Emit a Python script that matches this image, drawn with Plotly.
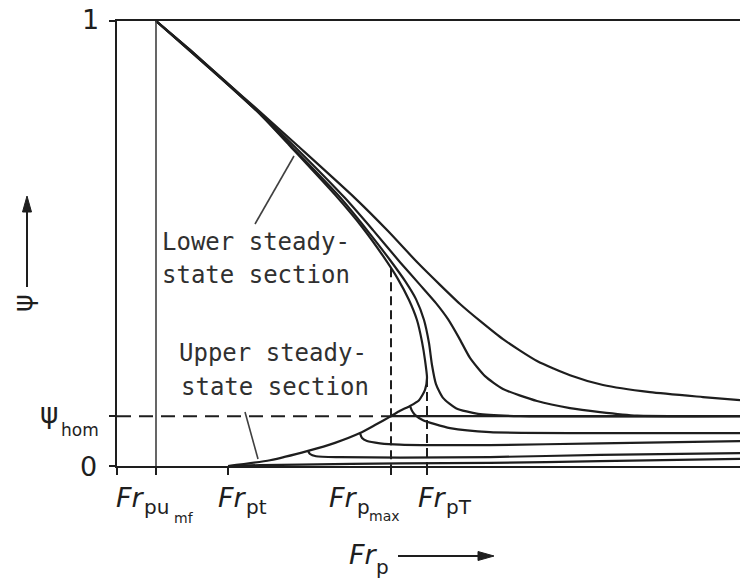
import numpy as np
import plotly.graph_objects as go

# ---- characteristic Froude numbers and homogeneous void fraction ----
FR_PUMF = 0.626
FR_PT = 1.782
FR_PMAX = 4.398
PSI_HOM = 0.112

# ---- state curves psi(Fr_p) ----
# S-shaped limiting curve: lower steady-state branch, turning point (Fr_pT), upper branch
c1_fr = [0.626, 1.172, 1.734, 2.295, 2.777, 3.515, 3.933, 4.270, 4.510, 4.687, 4.815, 4.896,
         4.944, 4.976, 4.944, 4.848, 4.703, 4.543, 4.398, 4.141, 3.900, 3.499, 3.066, 2.456,
         1.782]
c1_psi = [1.000, 0.933, 0.863, 0.791, 0.719, 0.607, 0.537, 0.472, 0.420, 0.373, 0.328, 0.279,
          0.238, 0.198, 0.171, 0.148, 0.135, 0.124, 0.112, 0.092, 0.074, 0.052, 0.034, 0.013,
          0.000]

c2_fr = [0.626, 1.172, 1.734, 2.295, 2.809, 3.579, 3.997, 4.382, 4.623, 4.799, 4.928, 5.008,
         5.056, 5.120, 5.233, 5.441, 5.795, 6.469, 10.0]
c2_psi = [1.000, 0.933, 0.863, 0.791, 0.717, 0.604, 0.533, 0.463, 0.416, 0.375, 0.328, 0.276,
          0.227, 0.184, 0.153, 0.130, 0.117, 0.112, 0.112]

c3_fr = [0.626, 1.172, 1.734, 2.295, 2.857, 3.660, 4.109, 4.543, 4.864, 5.120, 5.313, 5.490,
         5.666, 5.907, 6.196, 6.742, 7.271, 7.753, 8.347, 9.358, 10.0]
c3_psi = [1.000, 0.935, 0.865, 0.793, 0.717, 0.602, 0.530, 0.458, 0.407, 0.366, 0.330, 0.288,
          0.243, 0.202, 0.173, 0.146, 0.130, 0.121, 0.113, 0.112, 0.112]

c4_fr = [0.626, 1.172, 1.734, 2.295, 2.905, 3.820, 4.350, 4.831, 5.185, 5.506, 5.827, 6.196,
         6.742, 7.271, 7.801, 8.555, 9.406, 10.0]
c4_psi = [1.000, 0.935, 0.865, 0.796, 0.719, 0.602, 0.528, 0.456, 0.407, 0.364, 0.326, 0.285,
          0.236, 0.204, 0.182, 0.166, 0.155, 0.148]

# curves leaving the upper steady-state branch
h1_fr = [4.703, 4.735, 4.783, 4.912, 5.104, 5.345, 5.987, 7.753, 10.0]
h1_psi = [0.135, 0.124, 0.115, 0.103, 0.094, 0.085, 0.076, 0.074, 0.074]

h2_fr = [3.900, 3.933, 4.013, 4.222, 4.543, 5.987, 7.753, 10.0]
h2_psi = [0.074, 0.063, 0.056, 0.051, 0.048, 0.047, 0.051, 0.056]

h3_fr = [3.066, 3.098, 3.194, 3.579, 4.543, 5.987, 7.753, 10.0]
h3_psi = [0.034, 0.027, 0.022, 0.020, 0.019, 0.020, 0.025, 0.029]

h4_fr = [1.782, 2.295, 2.937, 4.543, 5.987, 7.753, 10.0]
h4_psi = [0.000, 0.002, 0.003, 0.006, 0.007, 0.011, 0.016]

INK = "#1e1e1e"
TXT = "#303030"

fig = go.Figure()

curve_style = dict(color=INK, width=2.2, shape="spline", smoothing=0.6)
for xs, ys in [(c1_fr, c1_psi), (c2_fr, c2_psi), (c3_fr, c3_psi), (c4_fr, c4_psi),
               (h1_fr, h1_psi), (h2_fr, h2_psi), (h3_fr, h3_psi), (h4_fr, h4_psi)]:
    fig.add_trace(go.Scatter(x=xs, y=ys, mode="lines", line=curve_style,
                             hoverinfo="skip", showlegend=False))

# turning point of the limiting curve -> Fr_pT
i_turn = int(np.argmax(c1_fr))
FR_PTT = c1_fr[i_turn]
psi_turn = c1_psi[i_turn]
# where the lower branch crosses Fr_pmax
psi_at_pmax = float(np.interp(FR_PMAX, c1_fr[:i_turn + 1], c1_psi[:i_turn + 1]))

# Fr_pumf vertical
fig.add_trace(go.Scatter(x=[FR_PUMF, FR_PUMF], y=[0, 1], mode="lines",
                         line=dict(color="#404040", width=1.6),
                         hoverinfo="skip", showlegend=False))
# psi_hom: dashed up to Fr_pmax, solid beyond
fig.add_trace(go.Scatter(x=[0, FR_PMAX], y=[PSI_HOM, PSI_HOM], mode="lines",
                         line=dict(color=INK, width=2, dash="14px,8px"),
                         hoverinfo="skip", showlegend=False))
fig.add_trace(go.Scatter(x=[FR_PMAX, 10], y=[PSI_HOM, PSI_HOM], mode="lines",
                         line=dict(color=INK, width=2.4),
                         hoverinfo="skip", showlegend=False))
# dashed verticals at Fr_pmax and Fr_pT
fig.add_trace(go.Scatter(x=[FR_PMAX, FR_PMAX], y=[psi_at_pmax, 0], mode="lines",
                         line=dict(color=INK, width=2, dash="9px,5px"),
                         hoverinfo="skip", showlegend=False))
fig.add_trace(go.Scatter(x=[FR_PTT, FR_PTT], y=[psi_turn, 0], mode="lines",
                         line=dict(color=INK, width=2, dash="9px,5px"),
                         hoverinfo="skip", showlegend=False))

L, T, W, H = 117, 21, 623, 445


def fx(px):
    return (px - L) / W


def fy(py):
    return (T + H - py) / H


annotations = []


def label(text, px, py, size, xanchor="left", yanchor="middle", family="DejaVu Sans",
          color=TXT, angle=0):
    annotations.append(dict(text=text, x=fx(px), y=fy(py), xref="paper", yref="paper",
                            xanchor=xanchor, yanchor=yanchor, showarrow=False,
                            textangle=angle, font=dict(family=family, size=size, color=color)))


# y tick labels
label("1", 101, 20, 27, xanchor="right", color=INK)
label("0", 99, 466, 27, xanchor="right", color=INK)
label("ψ", 60, 413, 28, xanchor="right", color=INK)
label("hom", 59, 430, 17, color=INK)

# x tick labels (main symbol + subscripts)
label("<i>Fr</i>", 114, 498, 27, color=INK)
label("pu", 142, 507, 20, color=INK)
label("mf", 172, 518, 14, color=INK)
label("<i>Fr</i>", 216, 498, 27, color=INK)
label("pt", 244, 507, 20, color=INK)
label("<i>Fr</i>", 327, 498, 27, color=INK)
label("p", 355, 507, 20, color=INK)
label("max", 367, 516, 14, color=INK)
label("<i>Fr</i>", 416, 498, 27, color=INK)
label("pT", 444, 507, 20, color=INK)

# axis titles
label("<i>Fr</i>", 347, 554, 27, color=INK)
label("p", 374, 567, 20, color=INK)
label("ψ", 22, 303, 27, xanchor="center", color=INK, angle=-90)

# section labels
mono = "DejaVu Sans Mono"
label("Lower steady-", 160, 242, 24, family=mono)
label("state section", 160, 275, 24, family=mono)
label("Upper steady-", 177, 353, 24, family=mono)
label("state section", 179, 387, 24, family=mono)

LEAD = "#404040"
shapes = [
    # leader lines from the section labels to the curves
    dict(type="line", xref="paper", yref="paper", x0=fx(255), y0=fy(224), x1=fx(294),
         y1=fy(156), line=dict(color=LEAD, width=1.6)),
    dict(type="line", xref="paper", yref="paper", x0=fx(245), y0=fy(412), x1=fx(258),
         y1=fy(459), line=dict(color=LEAD, width=1.6)),
    # arrow beside the Fr_p title
    dict(type="line", xref="paper", yref="paper", x0=fx(398), y0=fy(556), x1=fx(482),
         y1=fy(556), line=dict(color=INK, width=2)),
    dict(type="path", xref="paper", yref="paper",
         path=f"M {fx(494)},{fy(556)} L {fx(478)},{fy(551.5)} L {fx(478)},{fy(560.5)} Z",
         fillcolor=INK, line=dict(color=INK, width=1)),
    # arrow above the psi title
    dict(type="line", xref="paper", yref="paper", x0=fx(27), y0=fy(287), x1=fx(27),
         y1=fy(208), line=dict(color=INK, width=2)),
    dict(type="path", xref="paper", yref="paper",
         path=f"M {fx(27)},{fy(196)} L {fx(22.5)},{fy(212)} L {fx(31.5)},{fy(212)} Z",
         fillcolor=INK, line=dict(color=INK, width=1)),
]

fig.update_layout(
    width=740, height=579,
    margin=dict(l=L, r=740 - L - W, t=T, b=579 - T - H, pad=0),
    paper_bgcolor="white", plot_bgcolor="white",
    showlegend=False,
    annotations=annotations,
    shapes=shapes,
    xaxis=dict(range=[0, 10], showgrid=False, zeroline=False, showline=True,
               linecolor=INK, linewidth=2, mirror=True,
               ticks="outside", ticklen=7, tickwidth=2, tickcolor=INK,
               tickvals=[0, FR_PUMF, FR_PT, FR_PMAX, FR_PTT], showticklabels=False),
    yaxis=dict(range=[0, 1], showgrid=False, zeroline=False, showline=True,
               linecolor=INK, linewidth=2, mirror=False,
               ticks="outside", ticklen=6, tickwidth=2, tickcolor=INK,
               tickvals=[0, PSI_HOM, 1], showticklabels=False),
)

fig.write_html("out.html")
